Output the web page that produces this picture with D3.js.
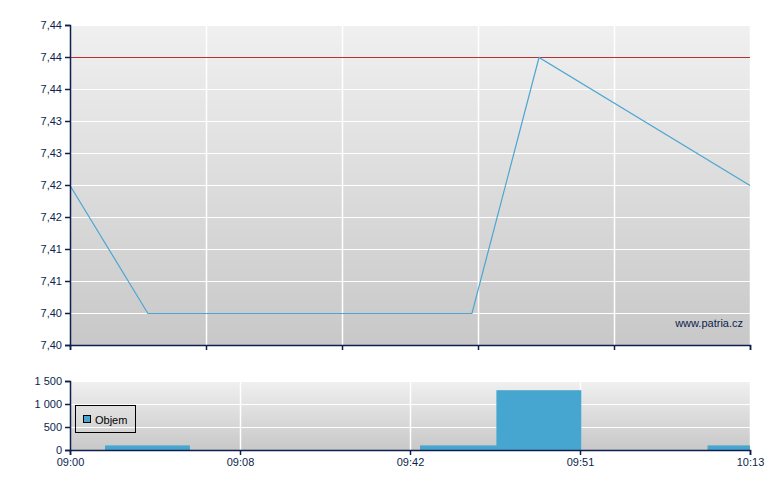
<!DOCTYPE html>
<html><head><meta charset="utf-8">
<script src="https://cdn.jsdelivr.net/npm/d3@7"></script>
<style>body{margin:0;background:#fff}svg{display:block}text{font-family:"Liberation Sans",Arial,sans-serif;font-size:11px;fill:#0c1f4e}</style>
</head><body><svg id="c" width="780" height="490"></svg>
<script>
const priceTimes = ["09:00:00","09:08:22","09:43:09","09:50:21","10:13:00"];
const priceValues = [7.42, 7.40, 7.40, 7.44, 7.42];
const refPrice = 7.44;
const volTimes = ["09:08:19","09:42:08","09:50:20","10:13:00"];
const volValues = [100, 100, 1300, 100];
const priceTicks = [7.395,7.400,7.405,7.410,7.415,7.420,7.425,7.430,7.435,7.440,7.445];
const priceTickLabels = ["7,40","7,40","7,41","7,41","7,42","7,42","7,43","7,43","7,44","7,44","7,44"];
const volTicks = [0,500,1000,1500];
const volTickLabels = ["0","500","1 000","1 500"];
const bottomLabels = ["09:00","09:08","09:42","09:51","10:13"];
const barMinutes = 9.125;

const parse = d3.timeParse("%H:%M:%S");
const svg = d3.select("#c");
const L = 70, R = 750;
const x = d3.scaleTime().domain([parse("09:00:00"), parse("10:13:00")]).range([L, R]);
const yP = d3.scaleLinear().domain([7.395, 7.445]).range([345, 25]);
const yV = d3.scaleLinear().domain([0, 1500]).range([450, 381]);
const navy = "#0c1f4e";

const defs = svg.append("defs");
const g1 = defs.append("linearGradient").attr("id","bg").attr("x1",0).attr("y1",0).attr("x2",0).attr("y2",1);
g1.append("stop").attr("offset","0%").attr("stop-color","#f0f0f0");
g1.append("stop").attr("offset","100%").attr("stop-color","#c8c8c8");
defs.append("clipPath").attr("id","cv").append("rect").attr("x",L).attr("y",381).attr("width",R-L).attr("height",69);

// price panel
svg.append("rect").attr("x",L).attr("y",25).attr("width",R-L).attr("height",320).attr("fill","url(#bg)");
const topTickX = d3.range(6).map(i => L + i*(R-L)/5);
svg.append("g").selectAll("line").data(priceTicks.slice(1)).join("line")
  .attr("x1",L).attr("x2",R).attr("y1",d=>Math.round(yP(d))+0.5).attr("y2",d=>Math.round(yP(d))+0.5)
  .attr("stroke","#fff").attr("stroke-width",1);
svg.append("g").selectAll("line").data(topTickX.slice(1)).join("line")
  .attr("x1",d=>d+0.5).attr("x2",d=>d+0.5).attr("y1",25).attr("y2",345)
  .attr("stroke","#fff").attr("stroke-width",1.5);
svg.append("line").attr("x1",L).attr("x2",R).attr("y1",Math.round(yP(refPrice))+0.5).attr("y2",Math.round(yP(refPrice))+0.5)
  .attr("stroke","#b83030").attr("stroke-width",1);
svg.append("path").datum(priceTimes.map((t,i)=>[parse(t),priceValues[i]]))
  .attr("fill","none").attr("stroke","#4ba6d0").attr("stroke-width",1.2)
  .attr("d", d3.line().x(d=>x(d[0])).y(d=>Math.round(yP(d[1]))+0.5));
svg.append("text").attr("x",743).attr("y",327).attr("text-anchor","end").text("www.patria.cz");

const ayP = svg.append("g").attr("transform",`translate(${L},0)`)
  .call(d3.axisLeft(yP).tickValues(priceTicks).tickSize(5).tickPadding(3).tickFormat((d,i)=>priceTickLabels[i]));
const axP = svg.append("g").attr("transform","translate(0,345)")
  .call(d3.axisBottom(d3.scaleLinear().domain([0,5]).range([L,R])).ticks(5).tickSize(5).tickFormat(""));

// volume panel
svg.append("rect").attr("x",L).attr("y",381).attr("width",R-L).attr("height",69).attr("fill","url(#bg)");
svg.append("g").selectAll("line").data(volTicks.slice(1)).join("line")
  .attr("x1",L).attr("x2",R).attr("y1",d=>Math.round(yV(d))+0.5).attr("y2",d=>Math.round(yV(d))+0.5)
  .attr("stroke","#fff").attr("stroke-width",1);
const bx = d3.scalePoint().domain(bottomLabels).range([L,R]);
svg.append("g").selectAll("line").data(bottomLabels.slice(1)).join("line")
  .attr("x1",d=>bx(d)+0.5).attr("x2",d=>bx(d)+0.5).attr("y1",381).attr("y2",450)
  .attr("stroke","#fff").attr("stroke-width",1.5);
const halfW = (x(parse("09:00:00")) , (x(d3.timeSecond.offset(parse("09:00:00"), barMinutes*60)) - L)/2);
svg.append("g").attr("clip-path","url(#cv)").selectAll("rect").data(volTimes.map((t,i)=>[parse(t),volValues[i]])).join("rect")
  .attr("x",d=>x(d[0])-halfW).attr("width",halfW*2)
  .attr("y",d=>yV(d[1])).attr("height",d=>yV(0)-yV(d[1]))
  .attr("fill","#46a6cf");
svg.append("g").attr("transform",`translate(${L},0)`)
  .call(d3.axisLeft(yV).tickValues(volTicks).tickSize(5).tickPadding(3).tickFormat((d,i)=>volTickLabels[i]));
svg.append("g").attr("transform","translate(0,450)")
  .call(d3.axisBottom(bx).tickSize(5).tickPadding(3));

// legend
const lg = svg.append("g");
lg.append("rect").attr("x",75.5).attr("y",405.5).attr("width",60).attr("height",27).attr("fill","none").attr("stroke","#000");
lg.append("rect").attr("x",83.5).attr("y",415.5).attr("width",7).attr("height",7).attr("fill","#46a6cf").attr("stroke","#000");
lg.append("text").attr("x",95).attr("y",424).attr("fill","#000").style("fill","#000").text("Objem");

svg.selectAll(".domain").attr("stroke",navy).attr("stroke-width",1.5);
svg.selectAll(".tick line").attr("stroke",navy).attr("stroke-width",1.5);
svg.selectAll(".tick text").attr("fill",navy).style("font-size","11px").style("font-family",'"Liberation Sans",Arial,sans-serif');
</script></body></html>
